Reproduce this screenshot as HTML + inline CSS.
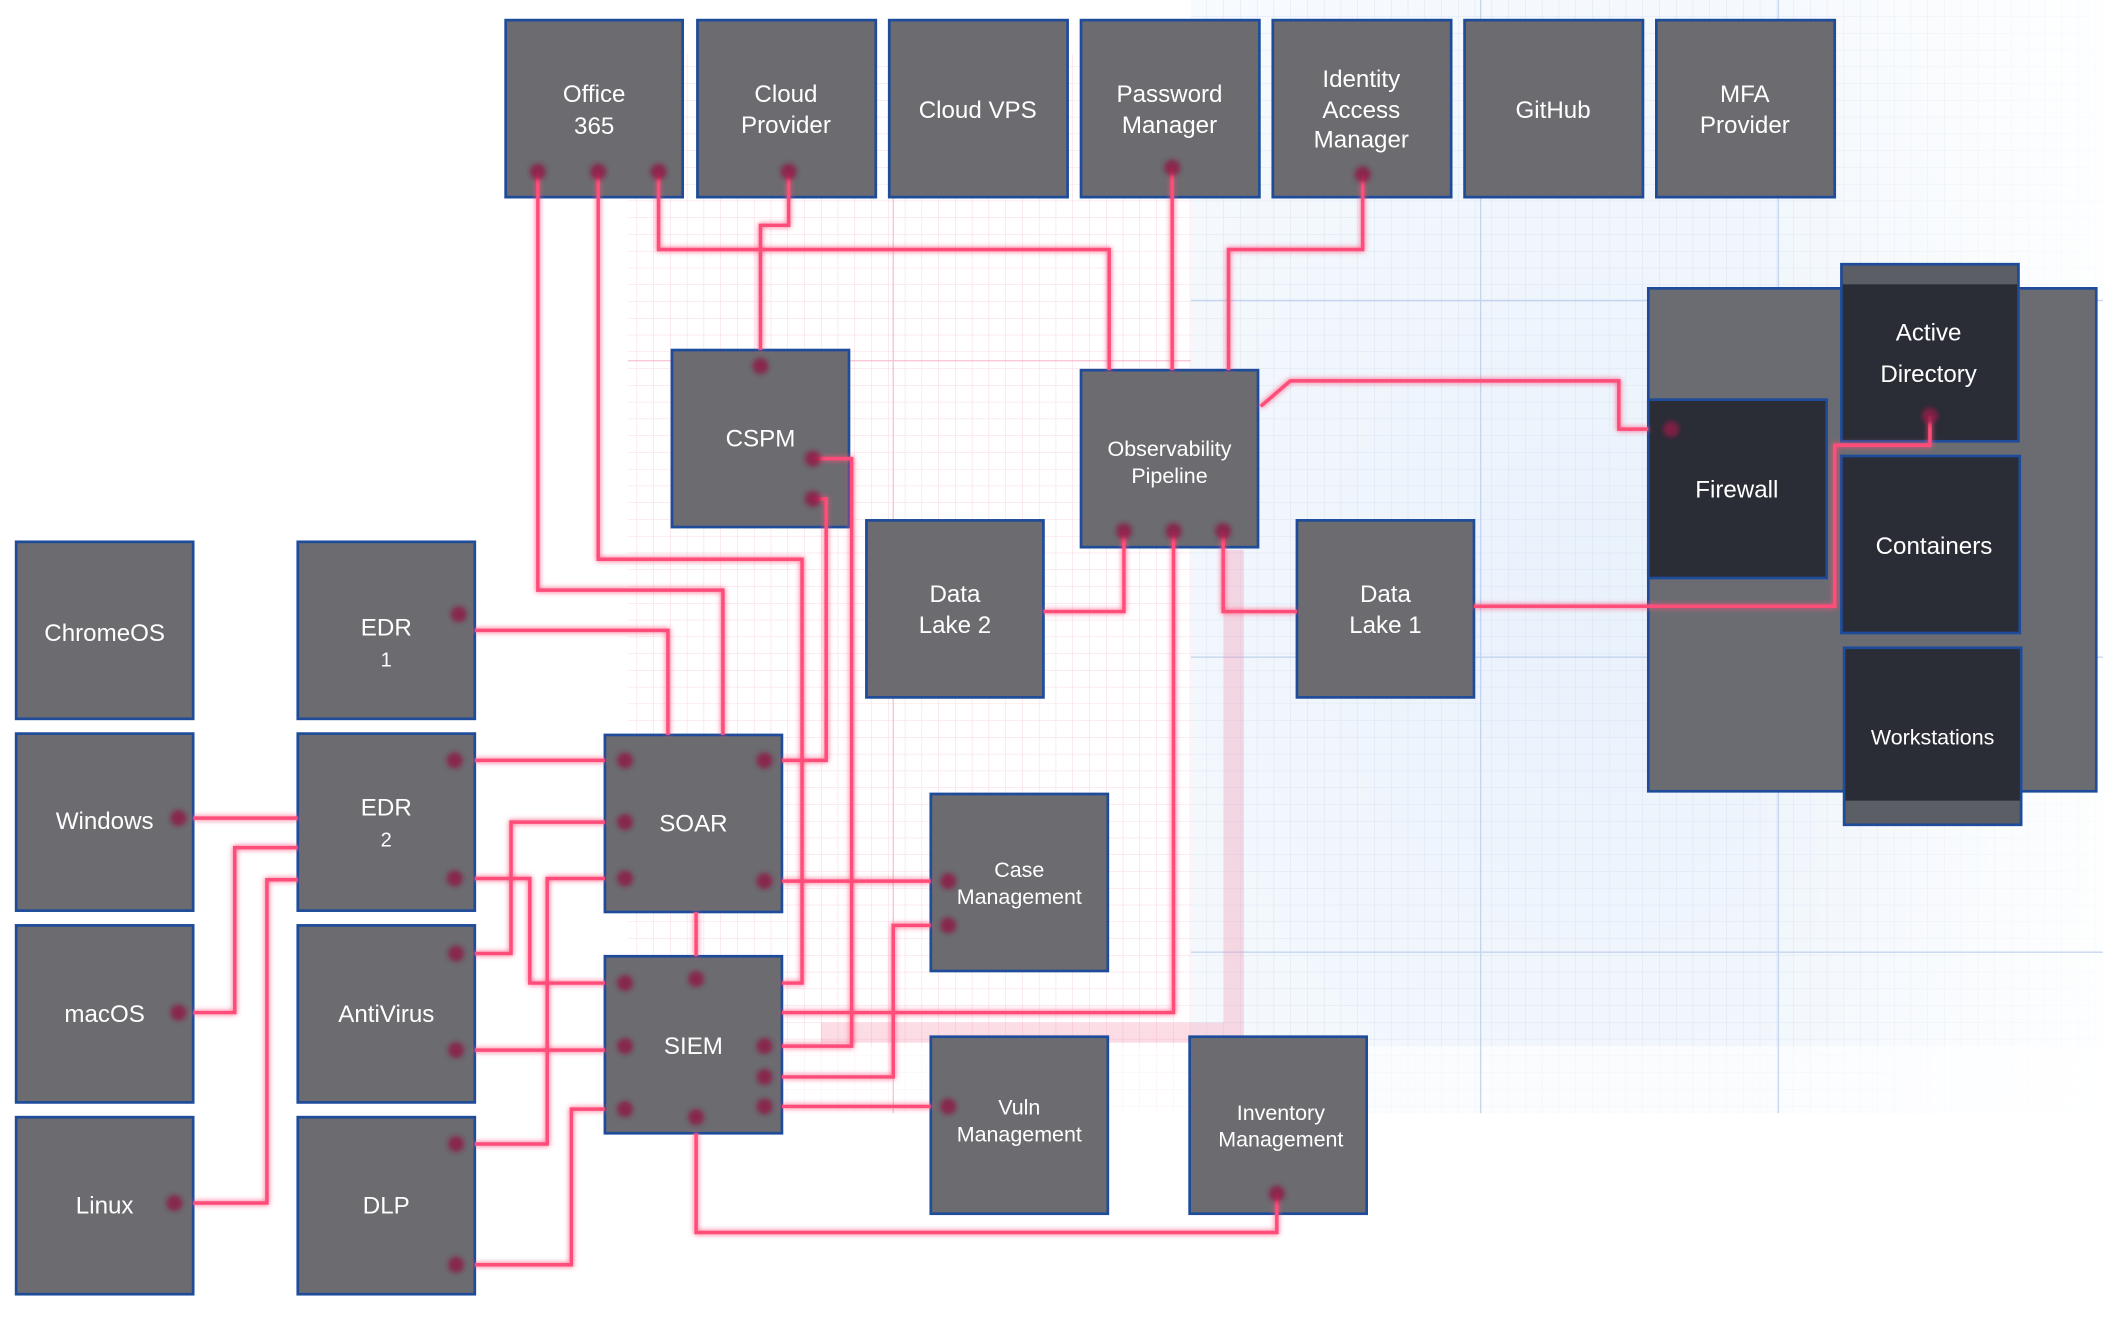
<!DOCTYPE html>
<html><head><meta charset="utf-8"><style>
html,body{margin:0;padding:0;background:#fff;width:2103px;height:1317px;overflow:hidden}
svg{display:block}
text{font-family:"Liberation Sans",sans-serif;fill:#fff;font-size:18px;text-anchor:middle}
</style></head><body>
<svg width="2103" height="1317" viewBox="0 0 1568 982" xmlns="http://www.w3.org/2000/svg">
<defs>
<pattern id="pg" width="12.5" height="12.5" patternUnits="userSpaceOnUse"><path d="M12.5 0V12.5H0" fill="none" stroke="#f6cdd9" stroke-width="0.6"/></pattern>
<pattern id="bg" width="12.5" height="12.5" patternUnits="userSpaceOnUse"><path d="M12.5 0V12.5H0" fill="none" stroke="#d4e0f1" stroke-width="0.6"/></pattern>
<radialGradient id="bf" cx="0.45" cy="0.55" r="0.7"><stop offset="0" stop-color="#e9f1fb"/><stop offset="1" stop-color="#f8fbfe"/></radialGradient>
<linearGradient id="fadeR" x1="0" x2="1"><stop offset="0" stop-color="#fff" stop-opacity="0"/><stop offset="1" stop-color="#fff" stop-opacity="1"/></linearGradient>
<filter id="glow" x="-20%" y="-20%" width="140%" height="140%"><feGaussianBlur stdDeviation="2" result="b"/><feMerge><feMergeNode in="b"/><feMergeNode in="SourceGraphic"/></feMerge></filter>
<filter id="bl"><feGaussianBlur stdDeviation="1.8"/></filter>
</defs>
<rect x="468" y="40" width="420" height="790" fill="url(#pg)"/>
<rect x="888" y="0" width="680" height="830" fill="url(#bf)"/>
<rect x="888" y="0" width="680" height="830" fill="url(#bg)"/>
<rect x="1300" y="0" width="268" height="830" fill="url(#fadeR)" opacity="0.8"/>
<rect x="468" y="780" width="1100" height="60" fill="#fff" opacity="0.6"/>
<g stroke="#f3a9be" stroke-width="1" fill="none" opacity="0.7">
<line x1="468" y1="269" x2="888" y2="269"/><line x1="666" y1="40" x2="666" y2="830"/>
</g>
<g stroke="#b9cdeb" stroke-width="1" fill="none" opacity="0.8">
<line x1="888" y1="224" x2="1568" y2="224"/><line x1="888" y1="490" x2="1568" y2="490"/><line x1="888" y1="710" x2="1568" y2="710"/>
<line x1="1104" y1="0" x2="1104" y2="830"/><line x1="1326" y1="0" x2="1326" y2="830"/>
</g>
<path d="M920 410V770H612" fill="none" stroke="#f48aa8" stroke-width="15" opacity="0.3"/>

<rect x="1229" y="215" width="334" height="375" fill="#6b6c72" stroke="#1e4b9a" stroke-width="2"/>

<g fill="#6b6b70" stroke="#1e4b9a" stroke-width="2">
<rect x="377" y="15" width="132" height="132"/><rect x="520" y="15" width="133" height="132"/>
<rect x="663" y="15" width="133" height="132"/><rect x="806" y="15" width="133" height="132"/>
<rect x="949" y="15" width="133" height="132"/><rect x="1092" y="15" width="133" height="132"/>
<rect x="1235" y="15" width="133" height="132"/>
<rect x="501" y="261" width="132" height="132"/><rect x="806" y="276" width="132" height="132"/>
<rect x="646" y="388" width="132" height="132"/><rect x="967" y="388" width="132" height="132"/>
<rect x="12" y="404" width="132" height="132"/><rect x="12" y="547" width="132" height="132"/>
<rect x="12" y="690" width="132" height="132"/><rect x="12" y="833" width="132" height="132"/>
<rect x="222" y="404" width="132" height="132"/><rect x="222" y="547" width="132" height="132"/>
<rect x="222" y="690" width="132" height="132"/><rect x="222" y="833" width="132" height="132"/>
<rect x="451" y="548" width="132" height="132"/><rect x="451" y="713" width="132" height="132"/>
<rect x="694" y="592" width="132" height="132"/><rect x="694" y="773" width="132" height="132"/>
<rect x="887" y="773" width="132" height="132"/>
</g>
<g fill="#2a2d36" stroke="#1e4b9a" stroke-width="2">
<rect x="1373" y="197" width="132" height="132"/>
<rect x="1229" y="298" width="133" height="133"/>
<rect x="1373" y="340" width="133" height="132"/>
<rect x="1375" y="483" width="132" height="132"/>
</g>
<rect x="1374" y="198" width="130" height="14" fill="#5c5e66"/>
<rect x="1376" y="597" width="130" height="17" fill="#5c5e66"/>

<g fill="none" stroke="#ff4d7a" stroke-width="2.6" filter="url(#glow)" stroke-linejoin="miter">
<path d="M401 128V440H539V548"/>
<path d="M446 128V417H598V733H583"/>
<path d="M491 128V186H827V276"/>
<path d="M588 128V168H567V261"/>
<path d="M874 125V276"/>
<path d="M1016 130V186H916V276"/>
<path d="M940 303L962 284H1207V320H1229"/>
<path d="M1439 310V332H1368V452H1099"/>
<path d="M838 396V456H778"/>
<path d="M912 396V456H967"/>
<path d="M875 396V755H583"/>
<path d="M606 342H635V780H583"/>
<path d="M606 372H616V567H583"/>
<path d="M354 470H498V548"/>
<path d="M354 567H451"/>
<path d="M354 655H395V733H451"/>
<path d="M144 610H222"/>
<path d="M144 755H175V632H222"/>
<path d="M144 897H199V656H222"/>
<path d="M354 711H381V613H451"/>
<path d="M354 783H451"/>
<path d="M354 853H408V655H451"/>
<path d="M354 943H426V827H451"/>
<path d="M519 680V713"/>
<path d="M583 657H694"/>
<path d="M583 803H666V690H694"/>
<path d="M583 825H694"/>
<path d="M519 845V919H952V890"/>
</g>

<g fill="#8c1f47" opacity="0.85" filter="url(#bl)">
<circle cx="401" cy="128" r="6"/><circle cx="446" cy="128" r="6"/><circle cx="491" cy="128" r="6"/>
<circle cx="588" cy="128" r="6"/><circle cx="874" cy="125" r="6"/><circle cx="1016" cy="130" r="6"/>
<circle cx="567" cy="273" r="6"/><circle cx="606" cy="342" r="6"/><circle cx="606" cy="372" r="6"/>
<circle cx="838" cy="396" r="6"/><circle cx="875" cy="396" r="6"/><circle cx="912" cy="396" r="6"/>
<circle cx="1439" cy="310" r="6"/><circle cx="1246" cy="320" r="6"/>
<circle cx="342" cy="458" r="6"/><circle cx="339" cy="567" r="6"/><circle cx="339" cy="655" r="6"/>
<circle cx="340" cy="711" r="6"/><circle cx="340" cy="783" r="6"/><circle cx="340" cy="853" r="6"/><circle cx="340" cy="943" r="6"/>
<circle cx="133" cy="610" r="6"/><circle cx="133" cy="755" r="6"/><circle cx="130" cy="897" r="6"/>
<circle cx="466" cy="567" r="6"/><circle cx="570" cy="567" r="6"/><circle cx="466" cy="613" r="6"/>
<circle cx="466" cy="655" r="6"/><circle cx="570" cy="657" r="6"/>
<circle cx="466" cy="733" r="6"/><circle cx="519" cy="730" r="6"/><circle cx="466" cy="780" r="6"/>
<circle cx="570" cy="780" r="6"/><circle cx="570" cy="803" r="6"/><circle cx="570" cy="825" r="6"/>
<circle cx="466" cy="827" r="6"/><circle cx="519" cy="833" r="6"/>
<circle cx="707" cy="657" r="6"/><circle cx="707" cy="690" r="6"/><circle cx="707" cy="825" r="6"/>
<circle cx="952" cy="890" r="6"/>
</g>

<text x="443" y="76">Office</text><text x="443" y="100">365</text>
<text x="586" y="76">Cloud</text><text x="586" y="99">Provider</text>
<text x="729" y="88">Cloud VPS</text>
<text x="872" y="76">Password</text><text x="872" y="99">Manager</text>
<text x="1015" y="65">Identity</text><text x="1015" y="88">Access</text><text x="1015" y="110">Manager</text>
<text x="1158" y="88">GitHub</text>
<text x="1301" y="76">MFA</text><text x="1301" y="99">Provider</text>
<text x="567" y="333">CSPM</text>
<text x="872" y="340" style="font-size:16px">Observability</text><text x="872" y="360" style="font-size:16px">Pipeline</text>
<text x="712" y="449">Data</text><text x="712" y="472">Lake 2</text>
<text x="1033" y="449">Data</text><text x="1033" y="472">Lake 1</text>
<text x="78" y="478">ChromeOS</text>
<text x="78" y="618">Windows</text>
<text x="78" y="762">macOS</text>
<text x="78" y="905">Linux</text>
<text x="288" y="474">EDR</text><text x="288" y="497" style="font-size:15px">1</text>
<text x="288" y="608">EDR</text><text x="288" y="631" style="font-size:15px">2</text>
<text x="288" y="762">AntiVirus</text>
<text x="288" y="905">DLP</text>
<text x="517" y="620">SOAR</text>
<text x="517" y="786">SIEM</text>
<text x="760" y="654" style="font-size:16px">Case</text><text x="760" y="674" style="font-size:16px">Management</text>
<text x="760" y="831" style="font-size:16px">Vuln</text><text x="760" y="851" style="font-size:16px">Management</text>
<text x="955" y="835" style="font-size:16px">Inventory</text><text x="955" y="855" style="font-size:16px">Management</text>
<text x="1438" y="254">Active</text><text x="1438" y="285">Directory</text>
<text x="1295" y="371">Firewall</text>
<text x="1442" y="413">Containers</text>
<text x="1441" y="555" style="font-size:16px">Workstations</text>
</svg>
</body></html>
